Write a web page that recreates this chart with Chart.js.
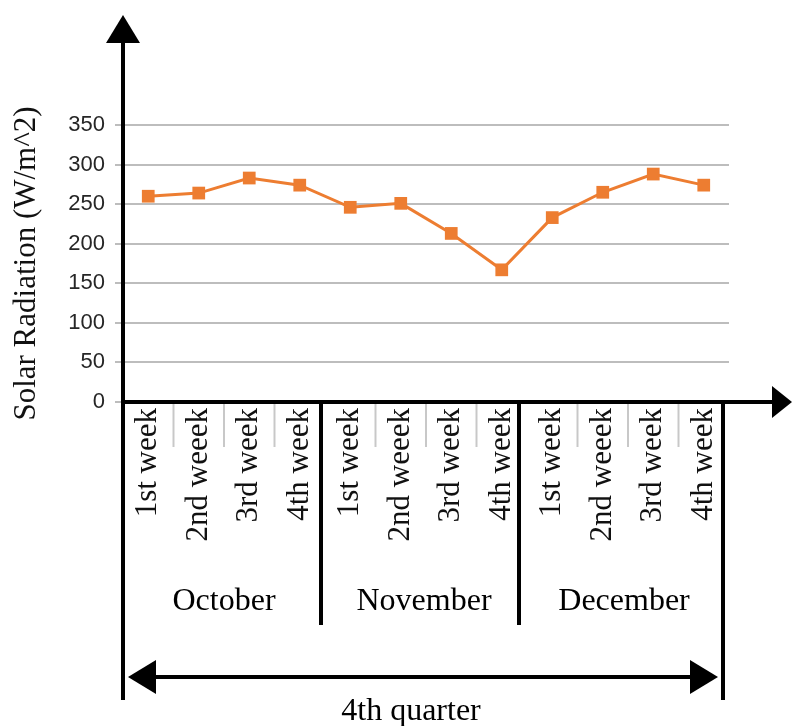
<!DOCTYPE html>
<html>
<head>
<meta charset="utf-8">
<script src="https://cdn.jsdelivr.net/npm/chart.js@4.4.0/dist/chart.umd.min.js"></script>
<style>
  body { margin: 0; background: #fff; }
  canvas { display: block; }
</style>
</head>
<body>
<canvas id="myChart" width="792" height="726"></canvas>
<script>
const weeks = [
    '1st week', '2nd weeek', '3rd week', '4th week',
    '1st week', '2nd weeek', '3rd week', '4th week',
    '1st week', '2nd weeek', '3rd week', '4th week'
];
const months = ['October', 'November', 'December'];
const radiation = [260, 264, 283, 274, 246, 251, 213, 167, 233, 265, 288, 274];
const quarter = '4th quarter';
const yMin = 0;
const yMax = 350;
const yStep = 50;

const orange = '#ED7D31';
const serif = '"Liberation Serif", "DejaVu Serif", serif';

function arrowHead(ctx, tipX, tipY, dir, len, half) {
    // dir: 'up', 'right', 'left'
    ctx.beginPath();
    if (dir === 'up') {
        ctx.moveTo(tipX, tipY);
        ctx.lineTo(tipX - half, tipY + len);
        ctx.lineTo(tipX + half, tipY + len);
    } else if (dir === 'right') {
        ctx.moveTo(tipX, tipY);
        ctx.lineTo(tipX - len, tipY - half);
        ctx.lineTo(tipX - len, tipY + half);
    } else {
        ctx.moveTo(tipX, tipY);
        ctx.lineTo(tipX + len, tipY - half);
        ctx.lineTo(tipX + len, tipY + half);
    }
    ctx.closePath();
    ctx.fill();
}

const decor = {
    id: 'decor',
    afterDraw(chart) {
        const ctx = chart.ctx;
        const x = chart.scales.x;
        const area = chart.chartArea;
        const step = x.getPixelForValue(1) - x.getPixelForValue(0);
        const bound = (i) => x.getPixelForValue(i) - step / 2;
        const left = area.left;
        const right = bound(weeks.length) - 6;
        const base = area.bottom;

        ctx.save();

        // small grey ticks between the weeks
        ctx.strokeStyle = '#c8c8c8';
        ctx.lineWidth = 2;
        for (let i = 1; i < weeks.length; i++) {
            if (i % 4 === 0) continue;
            ctx.beginPath();
            ctx.moveTo(bound(i), base + 2);
            ctx.lineTo(bound(i), base + 45);
            ctx.stroke();
        }

        ctx.strokeStyle = '#000';
        ctx.fillStyle = '#000';
        ctx.lineWidth = 4;

        // y axis with arrow
        ctx.beginPath();
        ctx.moveTo(left, 700);
        ctx.lineTo(left, 40);
        ctx.stroke();
        arrowHead(ctx, left, 15, 'up', 28, 17);

        // x axis with arrow
        ctx.beginPath();
        ctx.moveTo(left, base);
        ctx.lineTo(775, base);
        ctx.stroke();
        arrowHead(ctx, 792, base, 'right', 20, 16);

        // month separators
        for (let m = 1; m < months.length; m++) {
            const sx = bound(m * 4) - 4 * m;
            ctx.beginPath();
            ctx.moveTo(sx, base);
            ctx.lineTo(sx, 625);
            ctx.stroke();
        }
        ctx.beginPath();
        ctx.moveTo(right, base);
        ctx.lineTo(right, 700);
        ctx.stroke();

        // month names
        ctx.font = '32px ' + serif;
        ctx.textAlign = 'center';
        ctx.textBaseline = 'middle';
        months.forEach((name, m) => {
            const cx = (bound(m * 4) + bound(m * 4 + 4)) / 2 - 2 * m;
            ctx.fillText(name, cx, 602);
        });

        // quarter double arrow
        const ay = 677;
        ctx.beginPath();
        ctx.moveTo(left + 20, ay);
        ctx.lineTo(right - 20, ay);
        ctx.stroke();
        arrowHead(ctx, left + 5, ay, 'left', 28, 17);
        arrowHead(ctx, right - 5, ay, 'right', 28, 17);

        ctx.fillText(quarter, (left + right) / 2 - 12, 712);

        ctx.restore();
    }
};

const ctx = document.getElementById('myChart');

new Chart(ctx, {
    type: 'line',
    data: {
        labels: weeks,
        datasets: [{
            label: 'Solar Radiation',
            data: radiation,
            borderColor: orange,
            backgroundColor: orange,
            borderWidth: 3,
            pointStyle: 'rect',
            pointRadius: 9,
            pointBorderWidth: 0,
            pointBackgroundColor: orange,
            tension: 0
        }]
    },
    options: {
        responsive: false,
        animation: false,
        layout: {
            padding: { top: 125, right: 63, bottom: 0, left: 0 }
        },
        plugins: {
            legend: { display: false },
            tooltip: { enabled: false }
        },
        scales: {
            x: {
                offset: true,
                grid: { display: false, drawTicks: false },
                border: { display: false },
                ticks: {
                    autoSkip: false,
                    minRotation: 90,
                    maxRotation: 90,
                    padding: 6,
                    color: '#111',
                    font: { family: serif, size: 31 }
                },
                afterFit(scale) {
                    scale.height = 726 - 402;
                }
            },
            y: {
                min: yMin,
                max: yMax,
                ticks: {
                    stepSize: yStep,
                    padding: 10,
                    color: '#262626',
                    font: { family: '"Liberation Sans", Arial, sans-serif', size: 22 }
                },
                grid: {
                    color: '#bdbdbd',
                    lineWidth: 2,
                    tickLength: 8
                },
                border: { display: false },
                title: {
                    display: true,
                    text: 'Solar Radiation (W/m^2)',
                    color: '#111',
                    padding: { top: 8, bottom: 0 },
                    font: { family: serif, size: 31 }
                },
                afterFit(scale) {
                    scale.width = 123;
                }
            }
        }
    },
    plugins: [decor]
});
</script>
</body>
</html>
